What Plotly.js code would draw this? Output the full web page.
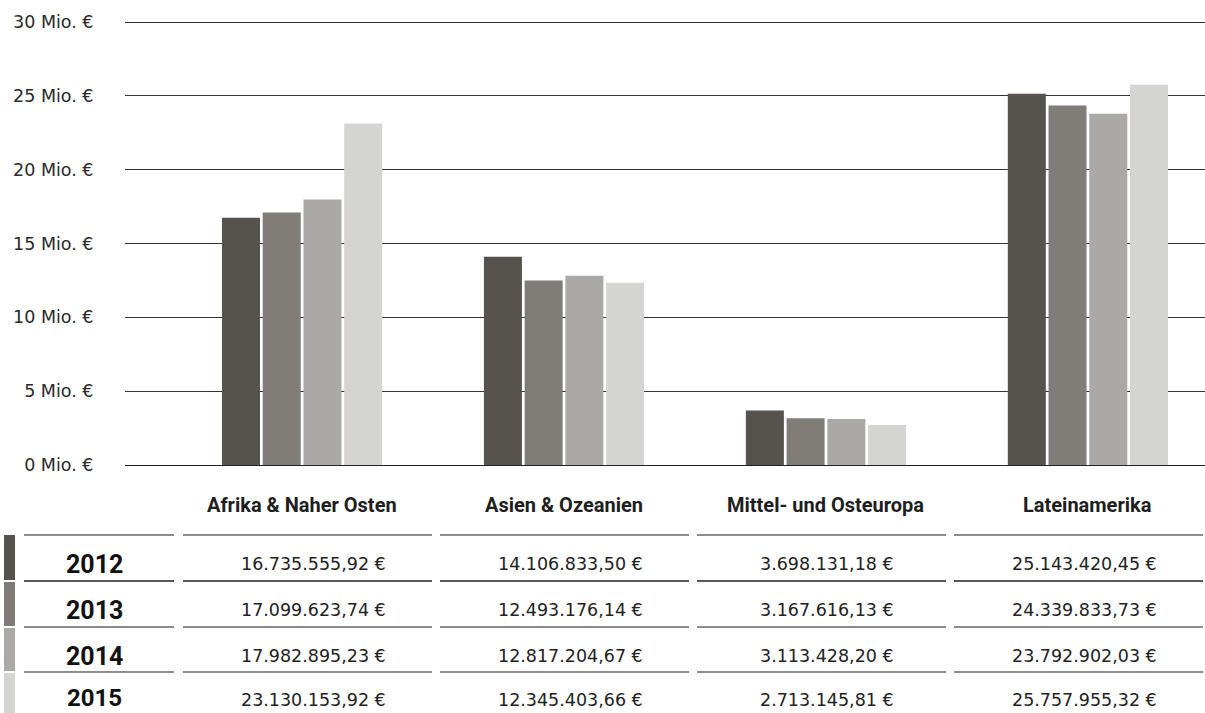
<!DOCTYPE html>
<html>
<head>
<meta charset="utf-8">
<script src="https://cdn.plot.ly/plotly-3.0.1.min.js"></script>
<style>html,body{margin:0;padding:0;background:#fff;}#chart{width:1205px;height:713px;}</style>
</head>
<body>
<div id="chart"></div>
<script>
const categories = ['Afrika & Naher Osten', 'Asien & Ozeanien', 'Mittel- und Osteuropa', 'Lateinamerika'];
const years = ['2012', '2013', '2014', '2015'];
const v2012 = [16735555.92, 14106833.50, 3698131.18, 25143420.45];
const v2013 = [17099623.74, 12493176.14, 3167616.13, 24339833.73];
const v2014 = [17982895.23, 12817204.67, 3113428.20, 23792902.03];
const v2015 = [23130153.92, 12345403.66, 2713145.81, 25757955.32];
const yTickVals = [0, 5, 10, 15, 20, 25, 30];
const yTickText = yTickVals.map(v => v + ' Mio. €');

const series = [v2012, v2013, v2014, v2015];
const colors = ['#56524d', '#807c78', '#aaa9a7', '#d4d4d3'];

function fmtDE(n) {
  const fixed = n.toFixed(2);
  const [intPart, dec] = fixed.split('.');
  const withDots = intPart.replace(/\B(?=(\d{3})+(?!\d))/g, '.');
  return withDots + ',' + dec + ' €';
}

// layout geometry (pixels)
const L = 125, T = 20, W = 1205, H = 713, PB = 465;
const PW = W - L, PH = PB - T;
const Y30 = 22; // pixel row of the 30 Mio. line
const yMax = 30 * PH / (PB - Y30);
const px = X => (X - L) / PW;
const py = Y => (PB - Y) / PH;

const traces = series.map((vals, i) => ({
  type: 'bar',
  name: years[i],
  x: categories.map((c, k) => k),
  y: vals.map(v => v / 1e6),
  marker: {color: colors[i], line: {width: 0}},
  hoverinfo: 'skip'
}));

const shapes = [];
const annotations = [];

// category labels
categories.forEach((c, k) => {
  annotations.push({
    x: k, xref: 'x', y: py(505), yref: 'paper',
    text: '<b>' + c + '</b>', showarrow: false,
    xanchor: 'center', yanchor: 'middle',
    font: {family: 'Roboto, sans-serif', size: 20, color: '#1e1e1e'}
  });
});

// table
const rowTop = [535, 581, 627, 672];
const rowText = [564, 610, 656, 700];
const stripTop = [535, 582, 628, 673];
const stripBot = [580, 626, 671, 713];
const colStart = 183, colW = 249, colStep = 257;

rowTop.forEach((Y, r) => {
  const lc = r === 1 ? '#222' : '#666';
  shapes.push({type: 'line', xref: 'paper', yref: 'paper', x0: px(24), x1: px(174), y0: py(Y), y1: py(Y),
    line: {color: lc, width: 1.3}});
  for (let c = 0; c < categories.length; c++) {
    const x0 = colStart + c * colStep;
    shapes.push({type: 'line', xref: 'paper', yref: 'paper', x0: px(x0), x1: px(Math.min(x0 + colW, W)), y0: py(Y), y1: py(Y),
      line: {color: lc, width: 1.3}});
  }
  shapes.push({type: 'rect', xref: 'paper', yref: 'paper', x0: px(4), x1: px(15), y0: py(stripTop[r]), y1: py(stripBot[r]),
    fillcolor: colors[r], line: {width: 0}});
  const last = r === rowTop.length - 1;
  annotations.push({x: px(94), xref: 'paper',
    y: last ? py(H) : py(rowText[r]), yref: 'paper', text: '<b>' + years[r] + '</b>',
    showarrow: false, xanchor: 'center', yanchor: last ? 'bottom' : 'middle', borderpad: 0,
    font: {family: 'Roboto, sans-serif', size: last ? 24 : 25, color: '#111'}});
  series[r].forEach((v, c) => {
    const cx = colStart + c * colStep + colW / 2 + 6;
    annotations.push({x: px(cx), xref: 'paper', y: py(rowText[r]), yref: 'paper', text: fmtDE(v),
      showarrow: false, xanchor: 'center', yanchor: 'middle',
      font: {family: '"DejaVu Sans", sans-serif', size: 17.5, color: '#222'}});
  });
});

const layout = {
  width: W, height: H,
  margin: {l: L, r: 0, t: T, b: H - PB, pad: 0},
  paper_bgcolor: '#fff', plot_bgcolor: '#fff',
  showlegend: false,
  barmode: 'group',
  bargap: 0.378,
  bargroupgap: 0.067,
  xaxis: {
    range: [-0.676, 3.447], showticklabels: false, showgrid: false, zeroline: false,
    showline: false, ticks: '', fixedrange: true
  },
  yaxis: {
    range: [0, yMax], tickvals: yTickVals, ticktext: yTickText,
    showgrid: true, gridcolor: '#333', gridwidth: 1,
    zeroline: true, zerolinecolor: '#222', zerolinewidth: 1,
    showline: false, ticks: 'outside', ticklen: 27, tickcolor: 'rgba(0,0,0,0)',
    tickfont: {family: '"DejaVu Sans", sans-serif', size: 17.5, color: '#2a2a2a'},
    fixedrange: true
  },
  shapes: shapes,
  annotations: annotations
};

Plotly.newPlot('chart', traces, layout, {displayModeBar: false, staticPlot: true});
</script>
</body>
</html>
